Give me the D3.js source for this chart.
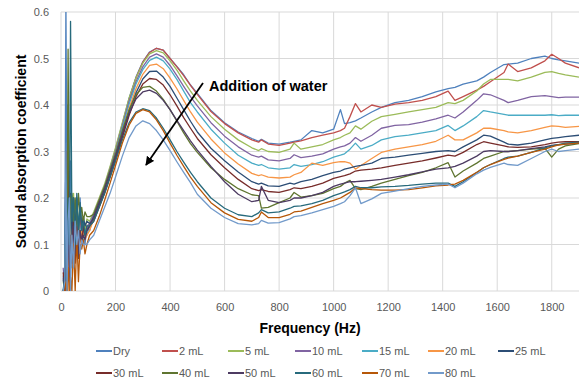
<!DOCTYPE html>
<html>
<head>
<meta charset="utf-8">
<script src="https://cdn.jsdelivr.net/npm/d3@7"></script>
<style>
  body { margin: 0; background: #fff; }
  svg text { font-family: "Liberation Sans", Arial, sans-serif; }
</style>
</head>
<body>
<div id="chart"></div>
<script>
// frequency points (Hz) shared by every series
var freq = [8, 14, 18, 22, 26, 31, 35, 40, 46, 52, 58, 64, 70, 76, 82, 88, 95, 105,
  120, 140, 160, 180, 200, 225, 250, 275, 300, 325, 350,
  375, 400, 425, 450, 475, 500, 550, 600, 650, 700, 725,
  735, 760, 800, 840, 855, 880, 920, 960, 1000, 1025, 1040, 1060, 1080, 1100, 1140, 1175, 1225, 1275,
  1325, 1375, 1420, 1445, 1475, 1525, 1550, 1575, 1625, 1640, 1675, 1725, 1775, 1800, 1825, 1850, 1900];

var dry = [0.03, 0.05, 0.62, 0.2, 0.35, 0.1, 0.28, 0.05, 0.2, 0.12, 0.18, 0.1, 0.2, 0.12, 0.15, 0.1, 0.14, 0.13,
  0.165, 0.195, 0.225, 0.265, 0.305, 0.36, 0.415, 0.46, 0.493, 0.514, 0.522,
  0.518, 0.5, 0.483, 0.465, 0.443, 0.425, 0.388, 0.362, 0.342, 0.328, 0.322,
  0.326, 0.318, 0.316, 0.32, 0.322, 0.325, 0.345, 0.34, 0.348, 0.39, 0.36, 0.362, 0.366, 0.372, 0.385, 0.395, 0.405, 0.41,
  0.418, 0.428, 0.435, 0.438, 0.445, 0.452, 0.46, 0.47, 0.487, 0.488, 0.49, 0.5, 0.505, 0.5, 0.497, 0.495, 0.49];
var ml2 = [0.0, 0.02, 0.0, 0.3, 0.05, 0.2, 0.1, 0.15, 0.2, 0.1, 0.15, 0.12, 0.17, 0.1, 0.13, 0.12, 0.14, 0.14,
  0.16, 0.19, 0.222, 0.262, 0.302, 0.357, 0.412, 0.458, 0.492, 0.513, 0.522,
  0.518, 0.5, 0.482, 0.463, 0.442, 0.423, 0.386, 0.36, 0.34, 0.325, 0.32,
  0.325, 0.316, 0.313, 0.318, 0.32, 0.323, 0.33, 0.335, 0.34, 0.345, 0.35, 0.375, 0.403, 0.385, 0.4, 0.395, 0.402, 0.405,
  0.41, 0.418, 0.43, 0.41, 0.418, 0.432, 0.44, 0.45, 0.47, 0.488, 0.472, 0.48, 0.495, 0.509, 0.5, 0.49, 0.48];
var ml5 = [0.02, 0.0, 0.15, 0.05, 0.3, 0.12, 0.2, 0.18, 0.21, 0.12, 0.2, 0.14, 0.18, 0.15, 0.16, 0.13, 0.155, 0.15,
  0.17, 0.2, 0.23, 0.268, 0.308, 0.362, 0.415, 0.458, 0.49, 0.51, 0.517,
  0.512, 0.495, 0.475, 0.452, 0.43, 0.41, 0.375, 0.348, 0.325, 0.308, 0.302,
  0.306, 0.3, 0.298, 0.305, 0.318, 0.305, 0.31, 0.315, 0.325, 0.33, 0.335, 0.34, 0.355, 0.348, 0.365, 0.375, 0.38, 0.385,
  0.39, 0.395, 0.405, 0.403, 0.41, 0.43, 0.445, 0.455, 0.455, 0.455, 0.452, 0.46, 0.47, 0.472, 0.468, 0.465, 0.46];
var ml10 = [0.05, 0.0, 0.1, 0.02, 0.2, 0.05, 0.15, 0.1, 0.17, 0.08, 0.15, 0.1, 0.14, 0.12, 0.13, 0.12, 0.14, 0.145,
  0.165, 0.195, 0.225, 0.262, 0.3, 0.355, 0.408, 0.45, 0.482, 0.503, 0.51,
  0.503, 0.485, 0.463, 0.44, 0.418, 0.398, 0.362, 0.333, 0.31, 0.292, 0.288,
  0.29, 0.282, 0.28, 0.285, 0.293, 0.287, 0.29, 0.295, 0.305, 0.31, 0.312, 0.318, 0.33, 0.322, 0.335, 0.35, 0.356, 0.358,
  0.363, 0.37, 0.378, 0.372, 0.385, 0.41, 0.424, 0.422, 0.41, 0.405, 0.41, 0.418, 0.42, 0.418, 0.416, 0.417, 0.417];
var ml15 = [0.0, 0.04, 0.2, 0.0, 0.1, 0.25, 0.08, 0.2, 0.12, 0.18, 0.1, 0.16, 0.12, 0.14, 0.11, 0.13, 0.12, 0.14,
  0.16, 0.19, 0.22, 0.258, 0.295, 0.35, 0.402, 0.445, 0.476, 0.496, 0.503,
  0.495, 0.477, 0.455, 0.43, 0.405, 0.385, 0.348, 0.318, 0.292, 0.275, 0.27,
  0.272, 0.265, 0.262, 0.265, 0.272, 0.268, 0.272, 0.278, 0.288, 0.292, 0.295, 0.305, 0.318, 0.305, 0.313, 0.325, 0.332, 0.335,
  0.34, 0.345, 0.356, 0.345, 0.355, 0.375, 0.388, 0.385, 0.38, 0.378, 0.378, 0.378, 0.378, 0.379, 0.377, 0.378, 0.378];
var ml20 = [0.0, 0.0, 0.05, 0.1, 0.0, 0.15, 0.05, 0.18, 0.1, 0.16, 0.12, 0.15, 0.1, 0.13, 0.12, 0.11, 0.12, 0.13,
  0.155, 0.185, 0.215, 0.252, 0.29, 0.342, 0.393, 0.435, 0.466, 0.485, 0.488,
  0.478, 0.458, 0.435, 0.41, 0.385, 0.363, 0.327, 0.297, 0.273, 0.253, 0.248,
  0.25, 0.245, 0.243, 0.245, 0.25, 0.255, 0.275, 0.27, 0.276, 0.278, 0.278, 0.275, 0.262, 0.27, 0.285, 0.298, 0.305, 0.31,
  0.315, 0.322, 0.335, 0.325, 0.325, 0.34, 0.35, 0.35, 0.345, 0.342, 0.34, 0.345, 0.352, 0.355, 0.354, 0.352, 0.354];
var ml25 = [0.02, 0.05, 0.3, 0.1, 0.4, 0.15, 0.21, 0.12, 0.2, 0.14, 0.2, 0.13, 0.18, 0.14, 0.16, 0.14, 0.15, 0.145,
  0.155, 0.185, 0.213, 0.248, 0.285, 0.336, 0.386, 0.426, 0.456, 0.472, 0.473,
  0.46, 0.44, 0.415, 0.39, 0.365, 0.342, 0.307, 0.28, 0.256, 0.235, 0.23,
  0.232, 0.226, 0.225, 0.232, 0.23, 0.235, 0.24, 0.248, 0.255, 0.258, 0.262, 0.265, 0.268, 0.27, 0.275, 0.285, 0.288, 0.292,
  0.296, 0.3, 0.302, 0.3, 0.31, 0.325, 0.335, 0.333, 0.32, 0.316, 0.314, 0.318, 0.325, 0.328, 0.33, 0.332, 0.335];
var ml30 = [0.04, 0.0, 0.05, 0.0, 0.3, 0.02, 0.12, 0.08, 0.15, 0.06, 0.14, 0.09, 0.13, 0.1, 0.14, 0.12, 0.13, 0.14,
  0.15, 0.18, 0.21, 0.245, 0.28, 0.33, 0.378, 0.418, 0.445, 0.457, 0.455,
  0.443, 0.422, 0.398, 0.373, 0.35, 0.328, 0.293, 0.265, 0.24, 0.22, 0.216,
  0.218, 0.214, 0.212, 0.218, 0.222, 0.22, 0.225, 0.232, 0.242, 0.246, 0.248, 0.252, 0.258, 0.26, 0.262, 0.265, 0.27, 0.275,
  0.28, 0.286, 0.292, 0.29, 0.298, 0.315, 0.321, 0.318, 0.312, 0.31, 0.309, 0.31, 0.315, 0.318, 0.32, 0.321, 0.321];
var ml40 = [0.0, 0.02, 0.1, 0.05, 0.52, 0.1, 0.2, 0.21, 0.15, 0.2, 0.14, 0.21, 0.16, 0.18, 0.15, 0.17, 0.16, 0.16,
  0.165, 0.195, 0.225, 0.26, 0.295, 0.345, 0.39, 0.422, 0.438, 0.44, 0.43,
  0.412, 0.39, 0.365, 0.34, 0.317, 0.298, 0.265, 0.24, 0.22, 0.207, 0.205,
  0.178, 0.18, 0.19, 0.2, 0.212, 0.202, 0.205, 0.21, 0.22, 0.225, 0.232, 0.238, 0.22, 0.218, 0.225, 0.232, 0.24, 0.248,
  0.255, 0.265, 0.276, 0.245, 0.258, 0.275, 0.285, 0.29, 0.3, 0.3, 0.302, 0.305, 0.307, 0.288, 0.305, 0.312, 0.317];
var ml50 = [0.03, 0.0, 0.08, 0.0, 0.15, 0.05, 0.1, 0.06, 0.14, 0.08, 0.12, 0.07, 0.13, 0.11, 0.12, 0.11, 0.13, 0.14,
  0.16, 0.19, 0.22, 0.255, 0.29, 0.338, 0.382, 0.413, 0.428, 0.432, 0.425,
  0.41, 0.39, 0.367, 0.345, 0.323, 0.303, 0.268, 0.235, 0.208, 0.192, 0.195,
  0.225, 0.195, 0.19, 0.195, 0.2, 0.2, 0.205, 0.212, 0.225, 0.23, 0.232, 0.235, 0.235, 0.236, 0.238, 0.24, 0.245, 0.25,
  0.256, 0.262, 0.265, 0.268, 0.275, 0.29, 0.3, 0.302, 0.3, 0.3, 0.302, 0.306, 0.31, 0.313, 0.315, 0.316, 0.318];
var ml60 = [0.0, 0.03, 0.25, 0.0, 0.2, 0.1, 0.58, 0.15, 0.2, 0.1, 0.21, 0.12, 0.19, 0.13, 0.15, 0.12, 0.14, 0.14,
  0.15, 0.18, 0.21, 0.245, 0.28, 0.325, 0.362, 0.385, 0.392, 0.388, 0.372,
  0.35, 0.325, 0.3, 0.277, 0.255, 0.235, 0.2, 0.178, 0.164, 0.16, 0.168,
  0.175, 0.168, 0.17, 0.178, 0.182, 0.183, 0.188, 0.195, 0.205, 0.21, 0.213, 0.218, 0.225, 0.222, 0.222, 0.224, 0.225, 0.227,
  0.23, 0.232, 0.232, 0.225, 0.235, 0.255, 0.265, 0.272, 0.285, 0.288, 0.29, 0.298, 0.308, 0.312, 0.315, 0.318, 0.32];
var ml70 = [0.0, 0.0, 0.02, 0.0, 0.05, 0.0, 0.03, 0.0, 0.1, 0.0, 0.12, 0.02, 0.1, 0.09, 0.11, 0.08, 0.1, 0.12,
  0.13, 0.16, 0.195, 0.232, 0.27, 0.318, 0.357, 0.382, 0.39, 0.385, 0.368,
  0.345, 0.318, 0.292, 0.268, 0.245, 0.225, 0.19, 0.168, 0.154, 0.15, 0.158,
  0.17, 0.158, 0.158, 0.165, 0.17, 0.172, 0.18, 0.188, 0.195, 0.2, 0.205, 0.212, 0.222, 0.22, 0.218, 0.217, 0.217, 0.218,
  0.222, 0.226, 0.228, 0.23, 0.238, 0.255, 0.265, 0.272, 0.283, 0.286, 0.29, 0.298, 0.305, 0.31, 0.314, 0.316, 0.318];
var ml80 = [0.0, 0.02, 0.3, 0.0, 0.15, 0.2, 0.0, 0.12, 0.05, 0.15, 0.1, 0.13, 0.08, 0.11, 0.1, 0.1, 0.1, 0.11,
  0.12, 0.15, 0.18, 0.21, 0.245, 0.29, 0.33, 0.355, 0.366, 0.36, 0.345,
  0.325, 0.302, 0.278, 0.255, 0.233, 0.208, 0.178, 0.158, 0.145, 0.142, 0.145,
  0.152, 0.146, 0.147, 0.155, 0.16, 0.162, 0.168, 0.175, 0.182, 0.188, 0.192, 0.205, 0.222, 0.188, 0.198, 0.21, 0.215, 0.22,
  0.225, 0.228, 0.23, 0.222, 0.232, 0.252, 0.26, 0.266, 0.275, 0.272, 0.27, 0.285, 0.3, 0.305, 0.3, 0.302, 0.305];

var seriesNames = ["Dry", "2 mL", "5 mL", "10 mL", "15 mL", "20 mL", "25 mL",
  "30 mL", "40 mL", "50 mL", "60 mL", "70 mL", "80 mL"];
var seriesValues = [dry, ml2, ml5, ml10, ml15, ml20, ml25, ml30, ml40, ml50, ml60, ml70, ml80];
var xTicks = [0, 200, 400, 600, 800, 1000, 1200, 1400, 1600, 1800];
var yTicks = [0, 0.1, 0.2, 0.3, 0.4, 0.5, 0.6];

// Excel-achtige kleuren per serie
var colors = ["#4F81BD", "#C0504D", "#9BBB59", "#8064A2", "#4BACC6", "#F79646", "#2C4D75",
  "#772C2A", "#5F7530", "#4D3B62", "#276A7C", "#B65708", "#729ACA"];

drawChart();

function drawChart() {

  var width = 583;
  var height = 383;
  var plot = {left: 61, right: 579, top: 12, bottom: 291};

  var svg = d3.select("#chart")
      .append("svg")
      .attr("width", width)
      .attr("height", height);

  var xScale = d3.scaleLinear()
      .domain([0, 1900])
      .range([plot.left, plot.right]);

  var yScale = d3.scaleLinear()
      .domain([0, 0.6])
      .range([plot.bottom, plot.top]);

  // gridlines
  svg.append("g").attr("class", "grid")
    .selectAll("line.h")
    .data(yTicks)
    .enter()
    .append("line")
      .attr("x1", plot.left)
      .attr("x2", plot.right)
      .attr("y1", function(d) { return yScale(d); })
      .attr("y2", function(d) { return yScale(d); })
      .attr("stroke", "#D9D9D9")
      .attr("stroke-width", 1);

  svg.append("g").attr("class", "grid")
    .selectAll("line.v")
    .data(xTicks)
    .enter()
    .append("line")
      .attr("x1", function(d) { return xScale(d); })
      .attr("x2", function(d) { return xScale(d); })
      .attr("y1", plot.top)
      .attr("y2", plot.bottom)
      .attr("stroke", "#D9D9D9")
      .attr("stroke-width", 1);

  // x-as
  var xAxis = svg.append("g")
      .attr("class", "x-axis")
      .attr("transform", "translate(0," + plot.bottom + ")")
      .call(d3.axisBottom(xScale).tickValues(xTicks).tickSize(0).tickPadding(12)
        .tickFormat(d3.format("d")));
  xAxis.select(".domain").remove();
  xAxis.selectAll("text")
      .attr("fill", "#595959")
      .style("font-size", "11px");

  // y-as
  var yAxis = svg.append("g")
      .attr("class", "y-axis")
      .attr("transform", "translate(" + plot.left + ",0)")
      .call(d3.axisLeft(yScale).tickValues(yTicks).tickSize(0).tickPadding(12)
        .tickFormat(function(d) { return d === 0 ? "0" : d.toFixed(1); }));
  yAxis.select(".domain").remove();
  yAxis.selectAll("text")
      .attr("fill", "#595959")
      .style("font-size", "11px");

  // clip zodat pieken boven 0.6 afgesneden worden
  svg.append("clipPath")
      .attr("id", "plotclip")
    .append("rect")
      .attr("x", plot.left)
      .attr("y", plot.top)
      .attr("width", plot.right - plot.left)
      .attr("height", plot.bottom - plot.top);

  var line = d3.line()
      .x(function(d, i) { return xScale(freq[i]); })
      .y(function(d) { return yScale(d); });

  svg.append("g")
      .attr("clip-path", "url(#plotclip)")
    .selectAll("path")
    .data(seriesValues)
    .enter()
    .append("path")
      .attr("fill", "none")
      .attr("stroke", function(d, i) { return colors[i]; })
      .attr("stroke-width", 1.3)
      .attr("stroke-linejoin", "round")
      .attr("d", function(d) { return line(d); });

  // as-titels
  svg.append("text")
      .attr("x", 310)
      .attr("y", 333)
      .attr("text-anchor", "middle")
      .style("font-size", "14px")
      .style("font-weight", "bold")
      .attr("fill", "#000")
      .text("Frequency (Hz)");

  svg.append("text")
      .attr("transform", "translate(26," + ((plot.top + plot.bottom) / 2) + ") rotate(-90)")
      .attr("text-anchor", "middle")
      .style("font-size", "14px")
      .style("font-weight", "bold")
      .attr("fill", "#000")
      .text("Sound absorption coefficient");

  // annotatie met pijl
  svg.append("defs").append("marker")
      .attr("id", "arrowhead")
      .attr("viewBox", "0 0 10 10")
      .attr("refX", 9)
      .attr("refY", 5)
      .attr("markerWidth", 5)
      .attr("markerHeight", 5)
      .attr("orient", "auto")
    .append("path")
      .attr("d", "M0,0 L10,5 L0,10 Z")
      .attr("fill", "#000");

  svg.append("line")
      .attr("x1", 203)
      .attr("y1", 83)
      .attr("x2", 146)
      .attr("y2", 165)
      .attr("stroke", "#000")
      .attr("stroke-width", 1.8)
      .attr("marker-end", "url(#arrowhead)");

  svg.append("text")
      .attr("x", 209)
      .attr("y", 91)
      .style("font-size", "14.5px")
      .style("font-weight", "bold")
      .attr("fill", "#000")
      .text("Addition of water");

  // legenda in twee rijen
  var colX = [96, 162, 228, 295, 362, 428, 498];
  var rowY = [351, 373];

  var legend = svg.append("g").attr("class", "legend")
    .selectAll("g")
    .data(seriesNames)
    .enter()
    .append("g")
      .attr("transform", function(d, i) {
        var row = i < 7 ? 0 : 1;
        var col = i < 7 ? i : i - 7;
        return "translate(" + colX[col] + "," + rowY[row] + ")";
      });

  legend.append("line")
      .attr("x1", 0)
      .attr("x2", 16)
      .attr("stroke", function(d, i) { return colors[i]; })
      .attr("stroke-width", 2);

  legend.append("text")
      .attr("x", 17)
      .attr("dy", "0.35em")
      .style("font-size", "11px")
      .attr("fill", "#595959")
      .text(function(d) { return d; });
}
</script>
</body>
</html>
